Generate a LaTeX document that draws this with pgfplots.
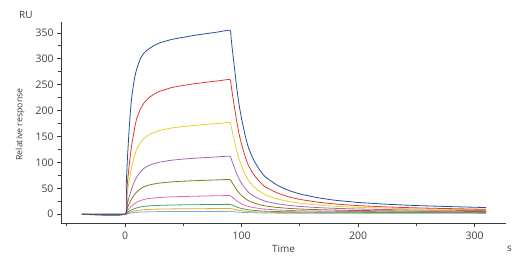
\documentclass[border=0pt]{standalone}
\usepackage{pgfplots}
\usepackage{pgfplotstable}
\pgfplotsset{compat=1.18}
\usepackage{fontspec}
\setmainfont{Open Sans}
\definecolor{txt}{HTML}{404040}
\definecolor{axc}{HTML}{3A3A3A}
\definecolor{c1}{HTML}{24509A}
\definecolor{c2}{HTML}{E8352F}
\definecolor{c3}{HTML}{E6D02A}
\definecolor{c4}{HTML}{9E6AB2}
\definecolor{c5}{HTML}{857A1C}
\definecolor{c6}{HTML}{E46AA6}
\definecolor{c7}{HTML}{3DA55C}
\definecolor{c8}{HTML}{F0A232}
\definecolor{c9}{HTML}{74AEDD}
\definecolor{base}{HTML}{5E5462}
\pgfplotstableread{
t    b1     b2     b3     b4     b5    b6    b7    b8    b9
-37  0      0      0      0      0     0     0     0     0
0    0      0      0      0      0     0     0     0     0
1    56.8   31.2   21.2   10.1   6.0   3.2   1.7   1.0   0.5
2    106.5  59.8   40.7   20.2   12.1  6.5   3.4   2.0   1.0
3    145.6  83.2   56.6   29.1   17.4  9.4   4.9   2.9   1.4
4    181.1  104.0  70.8   37.0   22.1  11.9  6.3   3.6   1.8
5    209.5  122.2  83.2   44.8   26.8  14.4  7.6   4.4   2.2
6    230.8  137.8  93.8   51.5   30.8  16.6  8.7   5.1   2.5
8    260.9  163.8  111.5  62.7   37.5  20.2  10.6  6.2   3.1
10   280.5  184.6  125.7  71.7   42.9  23.0  12.2  7.0   3.5
13   299.5  202.0  137.6  81.3   48.6  26.1  13.8  8.0   4.0
16   310.4  214.0  145.9  88.0   52.6  28.3  15.0  8.7   4.3
20   318.5  223.9  152.6  93.6   56.0  30.1  15.9  9.2   4.6
25   325.6  231.9  158.0  97.7   58.4  31.4  16.6  9.6   4.8
30   330.9  237.4  161.7  100.6  60.2  32.3  17.1  9.9   5.0
40   337.3  244.4  166.4  104.2  62.3  33.5  17.7  10.2  5.1
50   341.5  248.6  169.2  106.4  63.7  34.2  18.1  10.5  5.2
60   345.4  251.9  171.5  108.1  64.7  34.7  18.3  10.6  5.3
70   348.6  254.8  173.5  109.4  65.5  35.2  18.6  10.7  5.4
80   351.8  257.4  175.2  110.8  66.3  35.6  18.8  10.9  5.4
90   355.0  260.0  177.0  112.0  67.0  36.0  19.0  11.0  5.5
91   340.8  249.6  170.0  107.6  64.4  34.7  18.3  10.6  5.3
92   319.5  234.0  159.5  101.1  60.6  32.7  17.4  10.1  5.1
94   280.5  205.4  140.3  89.1   53.6  29.1  15.5  9.1   4.7
96   241.4  176.8  121.0  77.1   46.5  25.4  13.7  8.1   4.2
98   209.5  153.4  105.3  67.3   40.8  22.5  12.2  7.3   3.9
100  184.6  135.2  93.0   59.7   36.3  20.2  11.1  6.7   3.6
103  152.7  111.8  77.3   49.9   30.5  17.2  9.6   5.9   3.2
106  127.8  93.6   65.0   42.2   26.0  14.9  8.4   5.2   2.9
110  106.5  78.0   54.5   35.7   22.2  12.9  7.5   4.7   2.7
115  87.0   63.7   44.9   29.7   18.7  11.1  6.5   4.2   2.5
120  72.8   53.3   37.9   25.3   16.1  9.8   5.9   3.8   2.3
130  56.8   41.6   30.0   20.4   13.2  8.3   5.1   3.4   2.1
140  46.2   33.8   24.8   17.2   11.3  7.3   4.6   3.2   2.0
150  39.1   28.6   21.3   15.0   10.0  6.6   4.3   3.0   1.9
165  32.0   23.4   17.8   12.8   8.8   6.0   4.0   2.8   1.9
180  27.0   19.8   15.3   11.3   7.9   5.5   3.8   2.7   1.8
200  22.7   16.6   13.2   10.0   7.1   5.1   3.6   2.6   1.8
225  19.2   14.0   11.5   8.9    6.5   4.8   3.4   2.5   1.7
250  16.7   12.2   10.2   8.1    6.0   4.6   3.3   2.4   1.7
280  14.6   10.7   9.2    7.5    5.6   4.4   3.2   2.4   1.7
310  12.8   9.4    8.3    6.9    5.3   4.2   3.1   2.3   1.6
}\sensorgram
\pgfplotstableread{
t    y
-37  0
0    0
}\baseline
\begin{document}
\begin{tikzpicture}
\useasboundingbox (-61bp,-41bp) rectangle (468bp,223bp);
\begin{axis}[
  scale only axis,
  width=445bp, height=201bp,
  at={(0,0)}, anchor=south west,
  xmin=-55, xmax=327, ymin=-17, ymax=371,
  axis lines*=left,
  axis line style={axc, line width=0.9bp},
  xtick={0,100,200,300},
  minor xtick={-50,50,150,250},
  ytick={0,50,100,150,200,250,300,350},
  minor ytick={25,75,125,175,225,275,325},
  tick align=outside,
  major tick length=4bp, minor tick length=3bp,
  tick style={axc, line width=0.7bp},
  tick label style={font=\fontsize{10.5}{12}\selectfont, text=txt},
  /pgf/number format/assume math mode=true,
  xticklabel style={yshift=-1bp},
  clip=false,
  every axis plot/.append style={line width=0.8bp, line join=round, smooth, tension=0.3},
]
\addplot[c9] table[x=t,y=b9] {\sensorgram};
\addplot[c8] table[x=t,y=b8] {\sensorgram};
\addplot[c7] table[x=t,y=b7] {\sensorgram};
\addplot[c6] table[x=t,y=b6] {\sensorgram};
\addplot[c5] table[x=t,y=b5] {\sensorgram};
\addplot[c4] table[x=t,y=b4] {\sensorgram};
\addplot[c3] table[x=t,y=b3] {\sensorgram};
\addplot[c2] table[x=t,y=b2] {\sensorgram};
\addplot[c1] table[x=t,y=b1] {\sensorgram};
\addplot[base, line width=1.2bp] table[x=t,y=y] {\baseline};
\node[text=txt, font=\fontsize{10}{12}\selectfont] at (rel axis cs:-0.079,1.035) {RU};
\node[text=txt, font=\fontsize{10}{12}\selectfont] at (rel axis cs:0.50,-0.129) {Time};
\node[text=txt, font=\fontsize{10}{12}\selectfont] at (rel axis cs:1.008,-0.129) {s};
\node[text=txt, font=\fontsize{8.8}{10}\selectfont, rotate=90] at (rel axis cs:-0.092,0.49) {Relative response};
\end{axis}
\end{tikzpicture}
\end{document}
